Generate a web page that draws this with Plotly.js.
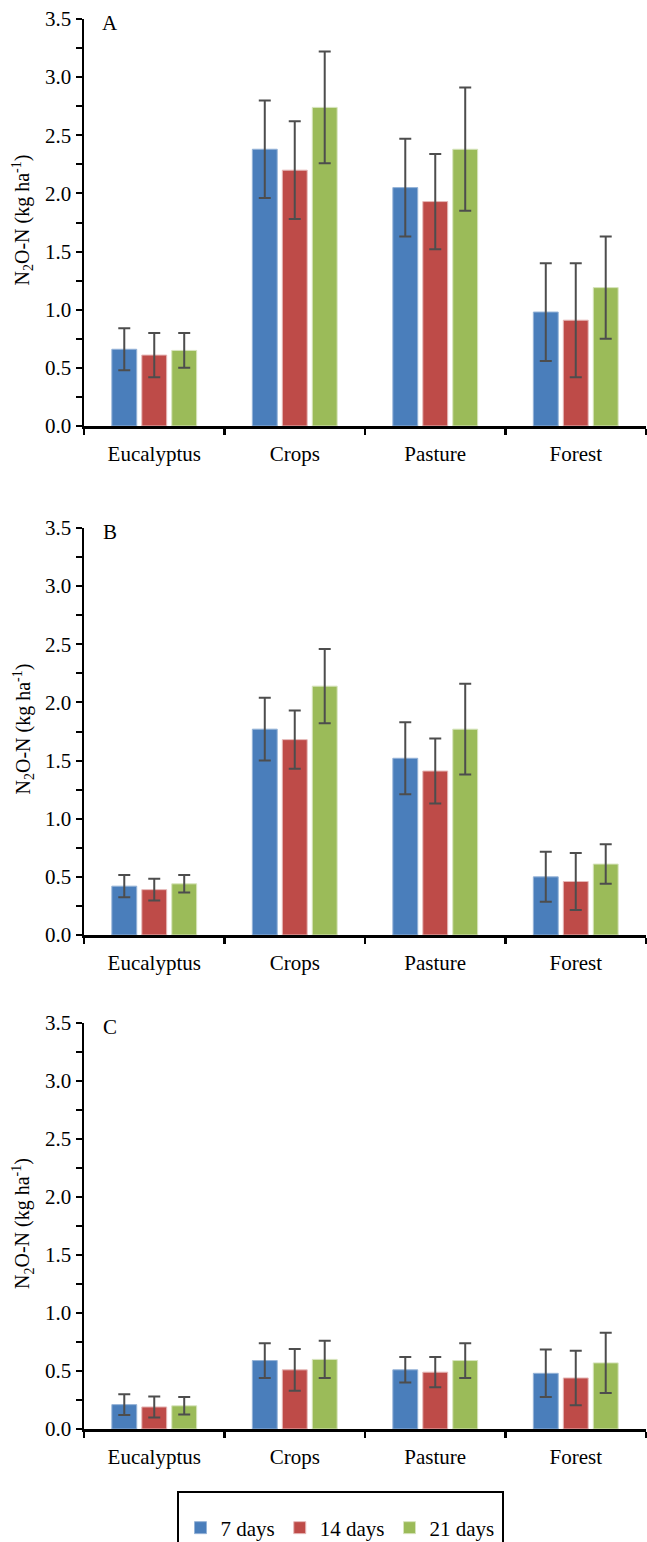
<!DOCTYPE html>
<html>
<head>
<meta charset="utf-8">
<script src="https://cdn.plot.ly/plotly-3.0.1.min.js"></script>
<style>html,body{margin:0;padding:0;background:#fff;}#chart{width:647px;height:1542px;}</style>
</head>
<body>
<div id="chart"></div>
<script>
// ---- data ----
const categories = ['Eucalyptus', 'Crops', 'Pasture', 'Forest'];
const seriesNames = ['7 days', '14 days', '21 days'];
const panelLabels = ['A', 'B', 'C'];
const yTitle = 'N<sub>2</sub>O-N (kg ha<sup>-1</sup>)';

const A_7days  = [0.66, 2.38, 2.05, 0.98];
const A_7err   = [0.18, 0.42, 0.42, 0.42];
const A_14days = [0.61, 2.20, 1.93, 0.91];
const A_14err  = [0.19, 0.42, 0.41, 0.49];
const A_21days = [0.65, 2.74, 2.38, 1.19];
const A_21err  = [0.15, 0.48, 0.53, 0.44];

const B_7days  = [0.42, 1.77, 1.52, 0.50];
const B_7err   = [0.095, 0.27, 0.31, 0.215];
const B_14days = [0.39, 1.68, 1.41, 0.46];
const B_14err  = [0.094, 0.25, 0.28, 0.245];
const B_21days = [0.44, 2.14, 1.77, 0.61];
const B_21err  = [0.075, 0.32, 0.39, 0.17];

const C_7days  = [0.21, 0.59, 0.51, 0.48];
const C_7err   = [0.09, 0.15, 0.11, 0.205];
const C_14days = [0.19, 0.51, 0.49, 0.44];
const C_14err  = [0.09, 0.18, 0.13, 0.235];
const C_21days = [0.20, 0.60, 0.59, 0.57];
const C_21err  = [0.075, 0.16, 0.15, 0.26];

// ---- styling ----
const FONT = 'Liberation Serif, Times New Roman, Times, serif';
const colors = ['#4a7ebb', '#be4b48', '#9bbb59'];
const edgeColors = ['#95b3d7', '#e6b9b8', '#d7e4bd'];

const panels = [
  {vals: [A_7days, A_14days, A_21days], errs: [A_7err, A_14err, A_21err]},
  {vals: [B_7days, B_14days, B_21days], errs: [B_7err, B_14err, B_21err]},
  {vals: [C_7days, C_14days, C_21days], errs: [C_7err, C_14err, C_21err]}
];

const H = 1542, W = 647;
const ML = 84, MR = 1;
const PW = W - ML - MR;
const px2x = p => (p - ML) / PW;   // pixel -> paper x (plot-area relative)
const px2y = p => 1 - p / H;       // pixel -> paper y (t=b=0)

// pixel positions of each panel (top = 3.5, bottom = 0.0)
const panelPx = [[19, 426], [528, 935], [1023, 1429]];

const traces = [];
panels.forEach((p, pi) => {
  const suf = pi === 0 ? '' : String(pi + 1);
  p.vals.forEach((v, si) => {
    traces.push({
      type: 'bar',
      x: categories,
      y: v,
      name: seriesNames[si],
      legendgroup: seriesNames[si],
      showlegend: pi === 0,
      xaxis: 'x' + suf,
      yaxis: 'y' + suf,
      marker: {color: colors[si], line: {color: edgeColors[si], width: 1}},
      error_y: {type: 'data', array: p.errs[si], visible: true, color: '#4d4d4d', thickness: 2, width: 6},
      hoverinfo: 'x+y'
    });
  });
});

const layout = {
  width: W, height: H,
  margin: {l: ML, r: MR, t: 0, b: 0, autoexpand: false},
  paper_bgcolor: '#fff', plot_bgcolor: '#fff',
  font: {family: FONT, size: 21, color: '#000'},
  barmode: 'group',
  bargap: 0.36,
  bargroupgap: 0.17,
  showlegend: true,
  legend: {
    orientation: 'h',
    x: px2x(340), xanchor: 'center',
    y: px2y(1528), yanchor: 'middle',
    borderwidth: 0,
    bgcolor: 'rgba(0,0,0,0)',
    font: {family: FONT, size: 21, color: '#000'},
    traceorder: 'normal'
  },
  shapes: [{
    type: 'rect', xref: 'paper', yref: 'paper',
    x0: px2x(178), x1: px2x(503), y0: px2y(1560), y1: px2y(1492),
    line: {color: '#000', width: 2}, fillcolor: 'rgba(0,0,0,0)', layer: 'above'
  }],
  annotations: []
};

panelPx.forEach((px, pi) => {
  const suf = pi === 0 ? '' : String(pi + 1);
  layout['xaxis' + suf] = {
    type: 'category',
    domain: [0, 1],
    anchor: 'y' + suf,
    range: [-0.5, 3.5],
    showline: true, linecolor: '#000', linewidth: 3,
    ticks: 'outside', tickson: 'boundaries', ticklen: 6, tickwidth: 2.5, tickcolor: '#000',
    ticklabelstandoff: 7,
    showgrid: false, zeroline: false,
    tickfont: {family: FONT, size: 21, color: '#000'},
    fixedrange: true
  };
  layout['yaxis' + suf] = {
    domain: [px2y(px[1]), px2y(px[0])],
    anchor: 'x' + suf,
    range: [0, 3.5],
    dtick: 0.5, tick0: 0,
    tickformat: '.1f',
    showline: true, linecolor: '#000', linewidth: 2.5,
    ticks: 'outside', ticklen: 6, tickwidth: 2, tickcolor: '#000',
    minor: {dtick: 0.25, ticks: 'outside', ticklen: 6, tickwidth: 2, tickcolor: '#000', showgrid: false},
    showgrid: false, zeroline: false,
    tickfont: {family: FONT, size: 21, color: '#000'},
    fixedrange: true
  };
  // panel letter
  layout.annotations.push({
    text: panelLabels[pi],
    xref: 'paper', yref: 'paper',
    x: px2x(110), y: px2y(px[0] + 4),
    xanchor: 'center', yanchor: 'middle',
    showarrow: false,
    font: {family: FONT, size: 21, color: '#000'}
  });
  // y-axis title
  layout.annotations.push({
    text: yTitle,
    textangle: -90,
    xref: 'paper', yref: 'paper',
    x: px2x(23), y: px2y((px[0] + px[1]) / 2 - 2),
    xanchor: 'center', yanchor: 'middle',
    showarrow: false,
    font: {family: FONT, size: 20, color: '#000'}
  });
});

Plotly.newPlot('chart', traces, layout, {displayModeBar: false, staticPlot: true});
</script>
</body>
</html>
